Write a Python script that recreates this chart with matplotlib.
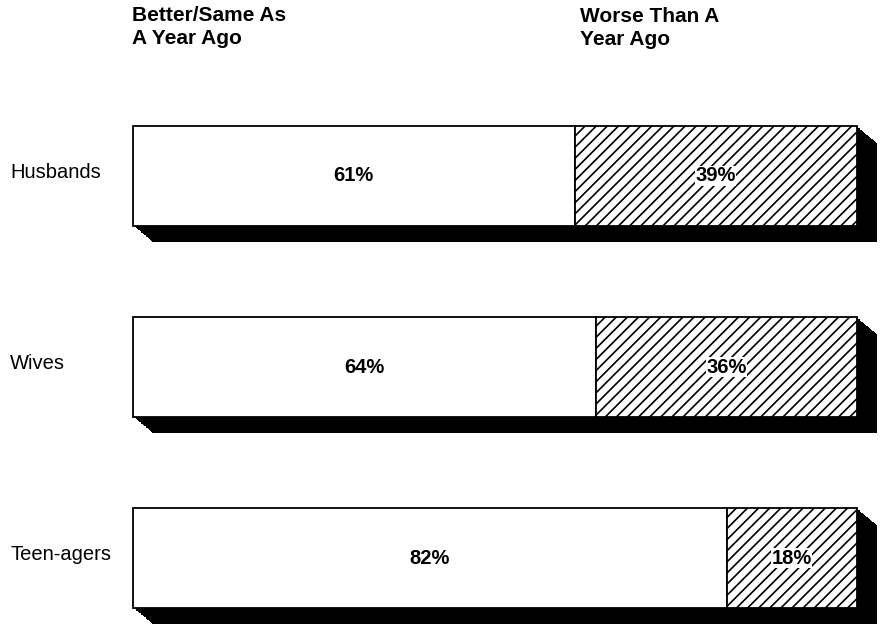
import matplotlib.pyplot as plt
import matplotlib.patheffects as pe

groups = ["Husbands", "Wives", "Teen-agers"]
better_same = [61, 64, 82]
worse = [39, 36, 18]
header_left = "Better/Same As\nA Year Ago"
header_right = "Worse Than A\nYear Ago"

plt.rcParams['font.family'] = ['Liberation Sans', 'DejaVu Sans']
plt.rcParams['hatch.linewidth'] = 1.2

fig = plt.figure(figsize=(8.8, 6.28), dpi=100)
ax = fig.add_axes([133 / 880, 0, 724 / 880, 1])
ax.set_xlim(0, 100)
ax.set_ylim(2.366, -0.921)
ax.axis('off')

# extruded shadow: stack of small offset copies (points), down-right
n_steps = 24
depth_x, depth_y = 14.5, 12
shadow = [pe.SimplePatchShadow(offset=(depth_x * k / n_steps, -depth_y * k / n_steps),
                               shadow_rgbFace='black', alpha=1.0)
          for k in range(1, n_steps + 1)] + [pe.Normal()]

ypos = list(range(len(groups)))
h = 0.52
bars1 = ax.barh(ypos, better_same, height=h, color='white', edgecolor='black', linewidth=1.3)
bars2 = ax.barh(ypos, worse, left=better_same, height=h, color='white', edgecolor='black',
                linewidth=1.3, hatch='///')
for b in list(bars1) + list(bars2):
    b.set_path_effects(shadow)
    b.set_clip_on(False)

for y, a, w in zip(ypos, better_same, worse):
    ax.text(a / 2, y, f"{a}%", ha='center', va='center', fontsize=14.5, fontweight='bold')
    ax.text(a + w / 2, y, f"{w}%", ha='center', va='center', fontsize=14.5, fontweight='bold',
            bbox=dict(facecolor='white', edgecolor='none', pad=0.3))

for y, g in zip(ypos, groups):
    fig.text(10 / 880, ax.transData.transform((0, y))[1] / fig.bbox.height + 0.006, g,
             ha='left', va='center', fontsize=14.5)

fig.text(132 / 880, 1 - 6 / 628, header_left, ha='left', va='top', fontsize=15,
         fontweight='bold', linespacing=1.28)
fig.text(580 / 880, 1 - 7 / 628, header_right, ha='left', va='top', fontsize=15,
         fontweight='bold', linespacing=1.28)

fig.savefig('out.png', dpi=100, facecolor='white')
